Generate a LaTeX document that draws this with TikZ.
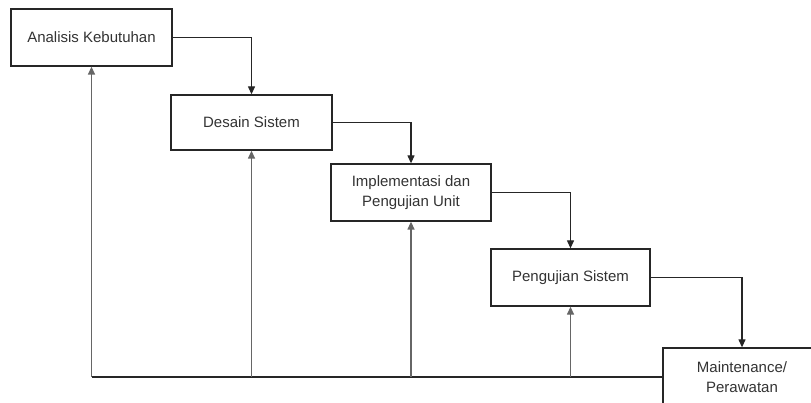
\documentclass[tikz,border=0pt]{standalone}
\usepackage{fontspec}
\setmainfont{Liberation Sans}
\usetikzlibrary{arrows.meta}
\begin{document}
\begin{tikzpicture}[x=1pt,y=-1pt,
  stagebox/.style={draw=black!85,line width=1.3pt,fill=white,inner sep=0pt,align=center,
    font=\fontsize{15pt}{20pt}\selectfont,text=black!80},
  flow/.style={draw=black!85,line width=1.2pt,-{Triangle[length=8pt,width=7pt]}},
  back/.style={draw=black!60,line width=1.3pt,-{Triangle[length=8pt,width=7pt]}}]
\clip (0,0) rectangle (811,403);
\fill[white] (0,0) rectangle (811,403);
\node[stagebox,minimum width=161pt,minimum height=57pt] (a) at (91.5,37.5) {Analisis Kebutuhan};
\node[stagebox,minimum width=161pt,minimum height=55pt] (b) at (251.5,122.5) {Desain Sistem};
\node[stagebox,minimum width=160pt,minimum height=57pt] (c) at (411,192.5) {Implementasi dan\\Pengujian Unit};
\node[stagebox,minimum width=159pt,minimum height=57pt] (d) at (570.5,277.5) {Pengujian Sistem};
\node[stagebox,minimum width=158pt,minimum height=58pt] (e) at (742,377) {Maintenance/\\Perawatan};
\draw[flow] (a.east) -| (b.north);
\draw[flow] (b.east) -| (c.north);
\draw[flow] (c.east) -| (d.north);
\draw[flow] (d.east) -| (e.north);
\coordinate (fa) at (e.west -| a.south);
\coordinate (fb) at (e.west -| b.south);
\coordinate (fc) at (e.west -| c.south);
\coordinate (fd) at (e.west -| d.south);
\draw[draw=black!85,line width=1.3pt] (e.west) -- (fa);
\draw[back] (fa) -- (a.south);
\draw[back] (fb) -- (b.south);
\draw[back] (fc) -- (c.south);
\draw[back] (fd) -- (d.south);
\end{tikzpicture}
\end{document}
